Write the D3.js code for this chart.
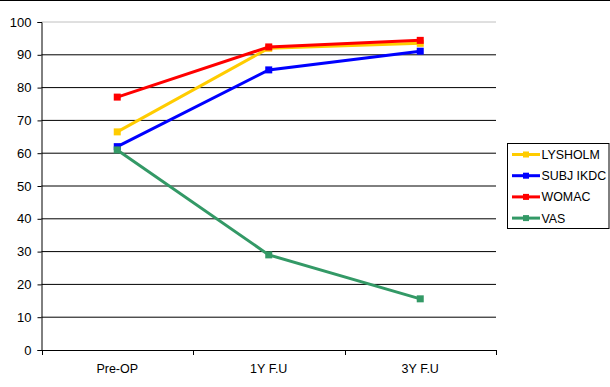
<!DOCTYPE html>
<html><head><meta charset="utf-8">
<script src="https://cdn.jsdelivr.net/npm/d3@7"></script>
<style>body{margin:0;background:#fff}svg{display:block}text{font-family:"Liberation Sans",Arial,sans-serif;fill:#000}</style>
</head><body><svg id="c" width="610" height="387"></svg>
<script>
const categories = ["Pre-OP", "1Y F.U", "3Y F.U"];
const seriesNames = ["LYSHOLM", "SUBJ IKDC", "WOMAC", "VAS"];
const seriesColors = ["#FFCC00", "#0000FF", "#FF0000", "#339966"];
const lysholm = [66.5, 92, 93.5];
const subjIkdc = [62, 85.4, 91.1];
const womac = [77.1, 92.4, 94.4];
const vas = [61, 29, 15.6];
const yTicks = [0, 10, 20, 30, 40, 50, 60, 70, 80, 90, 100];

(function(){
const seriesValues = [lysholm, subjIkdc, womac, vas];
const svg = d3.select("#c");
const FONT = '"Liberation Sans",Arial,sans-serif';
svg.append("line").attr("x1",0).attr("x2",610).attr("y1",0.5).attr("y2",0.5).attr("stroke","#000");

const pl = 41.5, pr = 496, pt = 22, pb = 350;
const x = d3.scaleBand().domain(categories).range([pl, pr]);
const y = d3.scaleLinear().domain([0, 100]).range([pb, pt]);

svg.append("g").selectAll("line").data(yTicks.filter(d => d > 0)).join("line")
  .attr("x1", pl).attr("x2", pr)
  .attr("y1", d => y(d)).attr("y2", d => y(d))
  .attr("stroke", d => d === 100 ? "#c0c0c0" : "#000").attr("stroke-width", 1);

const ya = svg.append("g").attr("transform", `translate(${pl},0)`)
  .call(d3.axisLeft(y).tickValues(yTicks).tickSize(4).tickPadding(6));
ya.select(".domain").attr("stroke", "#000");
ya.selectAll("text").style("font-size", "13px").style("font-family", FONT);

const xa = svg.append("g").attr("transform", `translate(0,${pb})`)
  .call(d3.axisBottom(x).tickSize(0).tickPadding(14));
xa.select(".domain").remove();
xa.selectAll("text").style("font-size", "12.5px").style("font-family", FONT);
svg.append("line").attr("x1", pl).attr("x2", pr).attr("y1", pb + 0.5).attr("y2", pb + 0.5).attr("stroke", "#000");
const bounds = categories.map(c => x(c)).concat([x(categories[categories.length-1]) + x.bandwidth()]);
svg.append("g").selectAll("line").data(bounds).join("line")
  .attr("x1", d => Math.round(d)+0.5).attr("x2", d => Math.round(d)+0.5)
  .attr("y1", pb).attr("y2", pb + 5).attr("stroke", "#000");

const cx = c => x(c) + x.bandwidth() / 2;
const line = d3.line().x((d, i) => cx(categories[i])).y(d => y(d));

seriesValues.forEach((vals, si) => {
  const g = svg.append("g");
  g.append("path").datum(vals).attr("d", line).attr("fill", "none")
    .attr("stroke", seriesColors[si]).attr("stroke-width", 3);
  g.selectAll("rect").data(vals).join("rect")
    .attr("x", (d, i) => cx(categories[i]) - 3.5).attr("y", d => y(d) - 3.5)
    .attr("width", 7).attr("height", 7).attr("fill", seriesColors[si]);
});

const lg = svg.append("g");
lg.append("rect").attr("x", 507.5).attr("y", 143.5).attr("width", 101.5).attr("height", 85)
  .attr("fill", "#fff").attr("stroke", "#000");
seriesNames.forEach((n, i) => {
  const yy = 154.5 + i * 21.2;
  lg.append("line").attr("x1", 512).attr("x2", 540).attr("y1", yy).attr("y2", yy)
    .attr("stroke", seriesColors[i]).attr("stroke-width", 3);
  lg.append("rect").attr("x", 523).attr("y", yy - 3).attr("width", 6).attr("height", 6).attr("fill", seriesColors[i]);
  lg.append("text").attr("x", 541.5).attr("y", yy + 4.5).style("font-size", "12.4px").style("font-family", FONT).text(n);
});
})();
</script></body></html>
